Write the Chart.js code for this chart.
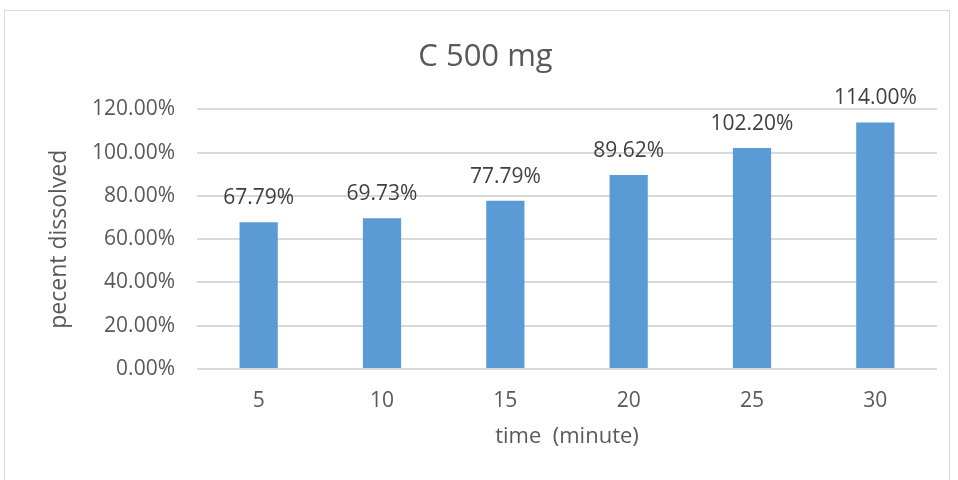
<!DOCTYPE html>
<html>
<head>
<meta charset="utf-8">
<script src="https://cdn.jsdelivr.net/npm/chart.js@4.4.0/dist/chart.umd.min.js"></script>
<style>
  html, body { margin: 0; padding: 0; background: #ffffff; }
  #frame { position: absolute; left: 4px; top: 10px; width: 946px; height: 480px; border: 1px solid #d9d9d9; box-sizing: border-box; }
  #wrap { position: absolute; left: 0; top: 0; width: 958px; height: 480px; }
</style>
</head>
<body>
<div id="frame"></div>
<div id="wrap"><canvas id="c" width="958" height="480"></canvas></div>
<script>
const chartTitle = "C 500 mg";
const categories = ["5", "10", "15", "20", "25", "30"];
const dissolved = [67.79, 69.73, 77.79, 89.62, 102.20, 114.00];
const valueLabels = ["67.79%", "69.73%", "77.79%", "89.62%", "102.20%", "114.00%"];
const yTitle = "pecent dissolved";
const xTitle = "time  (minute)";

const FONT = "'Open Sans', 'Liberation Sans', sans-serif";

const labelPlugin = {
  id: 'valueLabels',
  afterDatasetsDraw(chart) {
    const ctx = chart.ctx;
    const meta = chart.getDatasetMeta(0);
    ctx.save();
    ctx.font = "21px " + FONT;
    ctx.fillStyle = "#404040";
    ctx.textAlign = "center";
    ctx.textBaseline = "middle";
    meta.data.forEach((bar, i) => {
      ctx.fillText(valueLabels[i], bar.x, bar.y - 24);
    });
    ctx.restore();
  }
};

new Chart(document.getElementById('c'), {
  type: 'bar',
  data: {
    labels: categories,
    datasets: [{
      data: dissolved,
      backgroundColor: '#5B9BD5',
      borderWidth: 0,
      barPercentage: 0.31,
      categoryPercentage: 1.0
    }]
  },
  options: {
    responsive: false,
    animation: false,
    layout: { padding: { left: 34, right: 21, top: 0, bottom: 18 } },
    plugins: {
      legend: { display: false },
      tooltip: { enabled: false },
      title: {
        display: true,
        text: chartTitle,
        color: '#595959',
        font: { family: FONT, size: 31, weight: 'normal' },
        padding: { top: 38.4, bottom: 33.8 }
      }
    },
    scales: {
      x: {
        grid: { display: false, drawTicks: false },
        border: { display: false },
        ticks: { color: '#595959', font: { family: FONT, size: 21 }, padding: 19 },
        title: { display: true, text: xTitle, color: '#595959', font: { family: FONT, size: 22 }, padding: { top: 6, bottom: 12 } },
        afterFit(s) { s.height = 93; }
      },
      y: {
        min: 0, max: 120,
        ticks: {
          stepSize: 20,
          color: '#595959',
          font: { family: FONT, size: 21 },
          padding: 22,
          callback: v => v.toFixed(2) + '%'
        },
        grid: { color: '#d9d9d9', lineWidth: 2, drawTicks: false },
        border: { display: false },
        title: { display: true, text: yTitle, color: '#595959', font: { family: FONT, size: 23 }, padding: { top: 12, bottom: 0 } },
        afterFit(s) { s.width = 163; }
      }
    }
  },
  plugins: [labelPlugin]
});
</script>
</body>
</html>
